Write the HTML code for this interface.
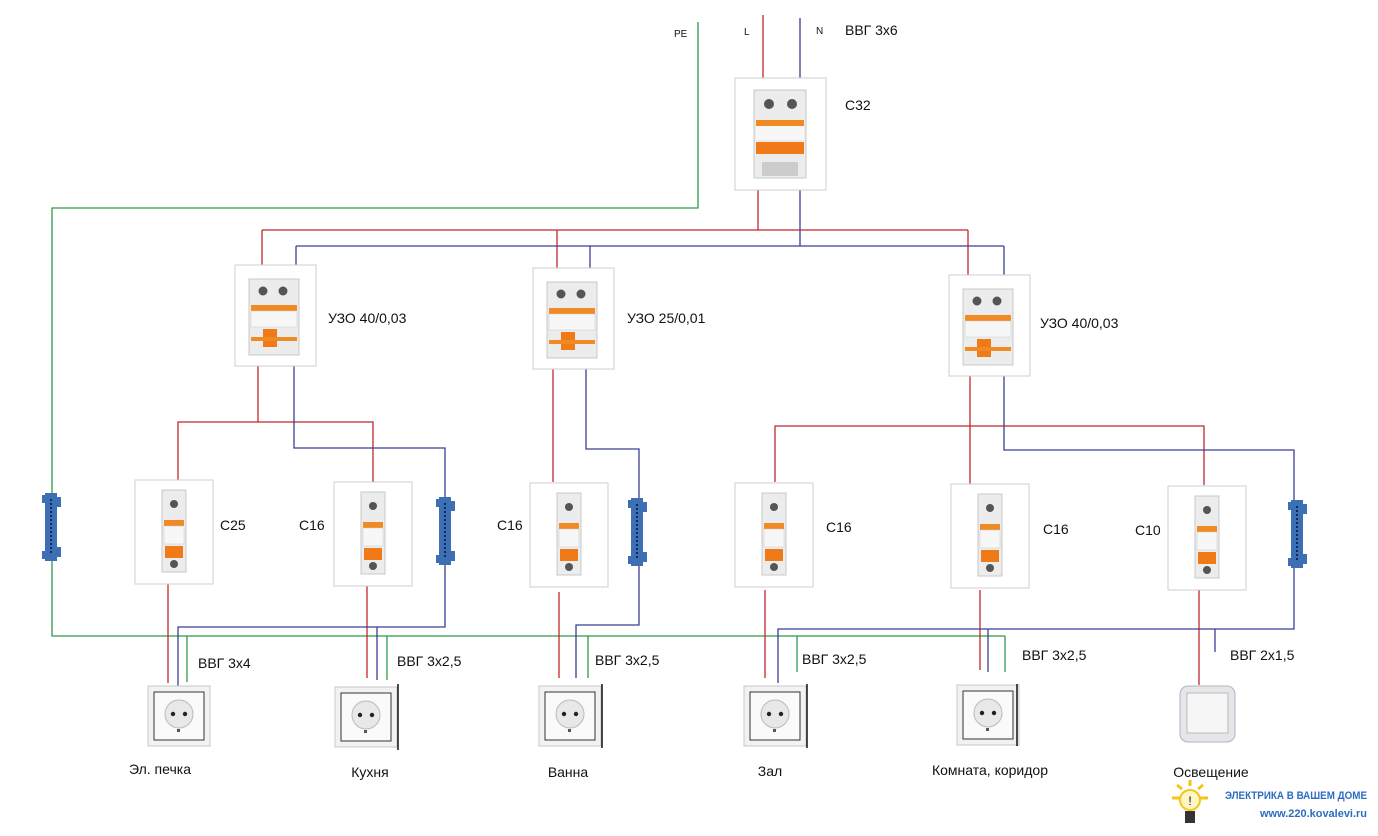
<!DOCTYPE html>
<html><head><meta charset="utf-8"><style>
html,body{margin:0;padding:0;background:#fff;}
svg{display:block;}
text{font-family:"Liberation Sans","DejaVu Sans",sans-serif;fill:#111;}
</style></head><body>
<svg width="1378" height="836" viewBox="0 0 1378 836" xmlns="http://www.w3.org/2000/svg">
<defs>
<g id="box1">
 <rect x="0" y="0" width="78" height="104" fill="#fff" stroke="#cfcfcf"/>
 <rect x="27" y="10" width="24" height="82" fill="#ececec" stroke="#c8c8c8"/>
 <circle cx="39" cy="24" r="4" fill="#555"/>
 <rect x="29" y="40" width="20" height="6" fill="#f08a24"/>
 <rect x="29" y="46" width="20" height="18" fill="#f7f7f7" stroke="#ccc" stroke-width="0.5"/>
 <rect x="30" y="66" width="18" height="12" fill="#f07a18"/>
 <circle cx="39" cy="84" r="4" fill="#555"/>
</g>
<g id="box2">
 <rect x="0" y="0" width="81" height="101" fill="#fff" stroke="#cfcfcf"/>
 <rect x="14" y="14" width="50" height="76" fill="#ececec" stroke="#c8c8c8"/>
 <circle cx="28" cy="26" r="4.5" fill="#555"/><circle cx="48" cy="26" r="4.5" fill="#555"/>
 <rect x="16" y="40" width="46" height="6" fill="#f08a24"/>
 <rect x="16" y="46" width="46" height="16" fill="#f7f7f7" stroke="#ccc" stroke-width="0.5"/>
 <rect x="28" y="64" width="14" height="18" fill="#f07a18"/>
 <rect x="16" y="72" width="46" height="4" fill="#f08a24"/>
</g>
<g id="sock">
 <rect x="0" y="0" width="62" height="60" fill="#f2f2f2" stroke="#c8c8c8"/>
 <rect x="6" y="6" width="50" height="48" fill="#fafafa" stroke="#333" stroke-width="1"/>
 <circle cx="31" cy="28" r="14" fill="#e8e8e8" stroke="#bbb"/>
 <circle cx="25" cy="28" r="2.2" fill="#222"/><circle cx="37" cy="28" r="2.2" fill="#222"/>
 <rect x="29" y="43" width="3" height="3" fill="#555"/>
</g>
<g id="bar">
 <rect x="3" y="0" width="12" height="68" fill="#3d6fb5"/>
 <rect x="0" y="2" width="4" height="8" fill="#3d6fb5"/><rect x="0" y="58" width="4" height="8" fill="#3d6fb5"/>
 <rect x="15" y="4" width="4" height="10" fill="#3d6fb5"/><rect x="15" y="54" width="4" height="10" fill="#3d6fb5"/>
 <line x1="9" y1="6" x2="9" y2="62" stroke="#0e2a5a" stroke-width="2" stroke-dasharray="2 2"/>
</g>
</defs>
<g fill="none" stroke-width="1.3">
<polyline stroke="#2e9a4a" points="698,22 698,208 52,208 52,636 1005,636"/>
<line stroke="#2e9a4a" x1="187" y1="636" x2="187" y2="682"/>
<line stroke="#2e9a4a" x1="387" y1="636" x2="387" y2="680"/>
<line stroke="#2e9a4a" x1="588" y1="636" x2="588" y2="678"/>
<line stroke="#2e9a4a" x1="797" y1="636" x2="797" y2="672"/>
<line stroke="#2e9a4a" x1="1005" y1="636" x2="1005" y2="672"/>
<g stroke="#c0282e">
<line x1="763" y1="15" x2="763" y2="78"/>
<polyline points="758,190 758,230"/>
<line x1="262" y1="230" x2="968" y2="230"/>
<line x1="262" y1="230" x2="262" y2="265"/>
<line x1="557" y1="230" x2="557" y2="268"/>
<line x1="968" y1="230" x2="968" y2="275"/>
<polyline points="258,366 258,422"/>
<polyline points="178,480 178,422 373,422 373,482"/>
<line x1="553" y1="369" x2="553" y2="482"/>
<line x1="970" y1="376" x2="970" y2="484"/>
<polyline points="775,482 775,426 1204,426 1204,485"/>
<line x1="168" y1="584" x2="168" y2="683"/>
<line x1="367" y1="586" x2="367" y2="678"/>
<line x1="559" y1="592" x2="559" y2="678"/>
<line x1="765" y1="590" x2="765" y2="678"/>
<line x1="980" y1="590" x2="980" y2="670"/>
<line x1="1199" y1="590" x2="1199" y2="685"/>
</g>
<g stroke="#3b3f96">
<line x1="800" y1="18" x2="800" y2="78"/>
<polyline points="800,190 800,246"/>
<line x1="296" y1="246" x2="1004" y2="246"/>
<line x1="296" y1="246" x2="296" y2="265"/>
<line x1="590" y1="246" x2="590" y2="268"/>
<line x1="1004" y1="246" x2="1004" y2="275"/>
<polyline points="294,366 294,448 445,448 445,600 445,627 178,627 178,688"/>
<line x1="377" y1="627" x2="377" y2="680"/>
<polyline points="586,369 586,449 639,449 639,625 576,625 576,678"/>
<polyline points="1004,376 1004,450 1294,450 1294,629 778,629 778,683"/>
<line x1="988" y1="629" x2="988" y2="672"/>
<line x1="1215" y1="629" x2="1215" y2="652"/>
</g>
</g>
<use href="#bar" x="42" y="493"/>
<use href="#bar" x="436" y="497"/>
<use href="#bar" x="628" y="498"/>
<use href="#bar" x="1288" y="500"/>
<rect x="735" y="78" width="91" height="112" fill="#fff" stroke="#cfcfcf"/>
<rect x="754" y="90" width="52" height="88" fill="#ececec" stroke="#c8c8c8"/>
<circle cx="769" cy="104" r="5" fill="#555"/><circle cx="792" cy="104" r="5" fill="#555"/>
<rect x="756" y="120" width="48" height="6" fill="#f08a24"/>
<rect x="756" y="126" width="48" height="14" fill="#f7f7f7"/>
<rect x="756" y="142" width="48" height="12" fill="#f07a18"/>
<rect x="762" y="162" width="36" height="14" fill="#ccc"/>
<use href="#box2" x="235" y="265"/>
<use href="#box2" x="533" y="268"/>
<use href="#box2" x="949" y="275"/>
<use href="#box1" x="135" y="480"/>
<use href="#box1" x="334" y="482"/>
<use href="#box1" x="530" y="483"/>
<use href="#box1" x="735" y="483"/>
<use href="#box1" x="951" y="484"/>
<use href="#box1" x="1168" y="486"/>
<use href="#sock" x="148" y="686"/>
<use href="#sock" x="335" y="687"/>
<use href="#sock" x="539" y="686"/>
<use href="#sock" x="744" y="686"/>
<use href="#sock" x="957" y="685"/>
<g stroke="#111" stroke-width="1.5">
<line x1="398" y1="684" x2="398" y2="750"/><line x1="602" y1="684" x2="602" y2="748"/>
<line x1="807" y1="684" x2="807" y2="748"/><line x1="1017" y1="684" x2="1017" y2="746"/>
</g>
<rect x="1180" y="686" width="55" height="56" rx="8" fill="#e4e6ea" stroke="#b0b4bc"/>
<rect x="1187" y="693" width="41" height="40" fill="#f6f6f6" stroke="#bbb"/>
<g font-size="14">
<text x="674" y="37" font-size="10">PE</text>
<text x="744" y="35" font-size="10">L</text>
<text x="816" y="34" font-size="10">N</text>
<text x="845" y="35">ВВГ 3х6</text>
<text x="845" y="110">С32</text>
<text x="328" y="323">УЗО 40/0,03</text>
<text x="627" y="323">УЗО 25/0,01</text>
<text x="1040" y="328">УЗО 40/0,03</text>
<text x="220" y="530">С25</text>
<text x="299" y="530">С16</text>
<text x="497" y="530">С16</text>
<text x="826" y="532">С16</text>
<text x="1043" y="534">С16</text>
<text x="1135" y="535">С10</text>
<text x="198" y="668">ВВГ 3х4</text>
<text x="397" y="666">ВВГ 3х2,5</text>
<text x="595" y="665">ВВГ 3х2,5</text>
<text x="802" y="664">ВВГ 3х2,5</text>
<text x="1022" y="660">ВВГ 3х2,5</text>
<text x="1230" y="660">ВВГ 2х1,5</text>
<text x="160" y="774" text-anchor="middle">Эл. печка</text>
<text x="370" y="777" text-anchor="middle">Кухня</text>
<text x="568" y="777" text-anchor="middle">Ванна</text>
<text x="770" y="776" text-anchor="middle">Зал</text>
<text x="990" y="775" text-anchor="middle">Комната, коридор</text>
<text x="1211" y="777" text-anchor="middle">Освещение</text>
</g>
<g stroke="#f5c518" stroke-width="3">
<line x1="1172" y1="798" x2="1180" y2="798"/><line x1="1200" y1="798" x2="1208" y2="798"/>
<line x1="1190" y1="780" x2="1190" y2="786"/><line x1="1177" y1="785" x2="1182" y2="789"/><line x1="1203" y1="785" x2="1198" y2="789"/>
</g>
<circle cx="1190" cy="800" r="10" fill="#fff6c8" stroke="#f5c518" stroke-width="2"/>
<rect x="1185" y="811" width="10" height="12" fill="#333"/>
<text x="1190" y="805" font-size="12" text-anchor="middle">!</text>
<text x="1225" y="799" font-size="11" font-weight="bold" textLength="142" lengthAdjust="spacingAndGlyphs" style="fill:#2d6cc0">ЭЛЕКТРИКА В ВАШЕМ ДОМЕ</text>
<text x="1260" y="817" font-size="11" font-weight="bold" textLength="107" lengthAdjust="spacingAndGlyphs" style="fill:#2d6cc0">www.220.kovalevi.ru</text>
</svg>
</body></html>
